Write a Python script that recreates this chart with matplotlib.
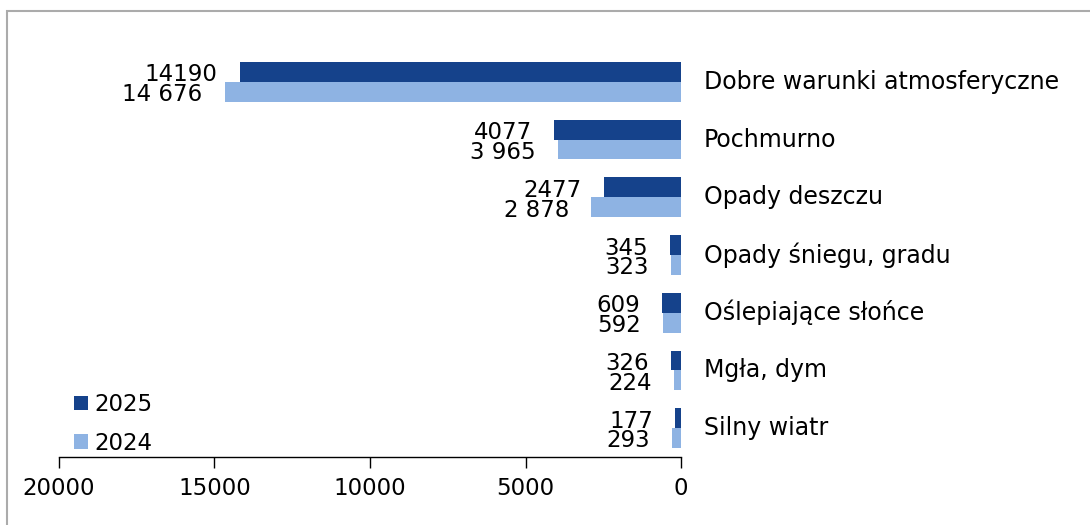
import matplotlib
matplotlib.use("Agg")
import matplotlib.pyplot as plt
from matplotlib.patches import Patch, Rectangle
import numpy as np

categories = ["Dobre warunki atmosferyczne", "Pochmurno", "Opady deszczu",
              "Opady śniegu, gradu", "Oślepiające słońce", "Mgła, dym", "Silny wiatr"]
values_2025 = [14190, 4077, 2477, 345, 609, 326, 177]
values_2024 = [14676, 3965, 2878, 323, 592, 224, 293]
series_labels = ["2025", "2024"]
xticks = [20000, 15000, 10000, 5000, 0]

c_dark = "#15428B"
c_light = "#8EB3E3"
FS = 16.5
FS_CAT = 17

plt.rcParams['font.family'] = ['DejaVu Sans']

fig = plt.figure(figsize=(10.9, 5.25), dpi=100)
ax = fig.add_axes([59/1090, 1-457/525, (681-59)/1090, (457-53)/525])

n = len(categories)
ypos = np.arange(n)[::-1]
h = 0.345
ax.barh(ypos + h/2, values_2025, height=h, color=c_dark)
ax.barh(ypos - h/2, values_2024, height=h, color=c_light)

ax.set_xlim(20000, 0)
ax.set_ylim(-0.5, n - 0.5)
ax.set_xticks(xticks)
ax.set_xticklabels([str(t) for t in xticks], fontsize=FS)
ax.set_yticks([])
for s in ["top", "left", "right"]:
    ax.spines[s].set_visible(False)
ax.spines["bottom"].set_linewidth(1.0)
ax.tick_params(axis="x", direction="out", length=8, width=1.0, pad=6.5)

for y, v25, v24, cat in zip(ypos, values_2025, values_2024, categories):
    ax.annotate(str(v25), xy=(v25, y + h/2), xytext=(-22*0.72, -2.2), textcoords="offset points",
                ha="right", va="center", fontsize=FS)
    ax.annotate(f"{v24:,}".replace(",", " "), xy=(v24, y - h/2), xytext=(-22*0.72, -2.0),
                textcoords="offset points", ha="right", va="center", fontsize=FS)
    ax.annotate(cat, xy=(0, y), xytext=(23*0.72, 0), textcoords="offset points",
                ha="left", va="center", fontsize=FS_CAT)

handles = [Patch(facecolor=c_dark, edgecolor="none"), Patch(facecolor=c_light, edgecolor="none")]
fig.legend(handles, series_labels, loc="upper left", bbox_to_anchor=(74/1090, 1-393/525),
           frameon=False, fontsize=FS, handlelength=0.62, handleheight=0.62,
           handletextpad=0.28, labelspacing=0.68, borderpad=0, borderaxespad=0)

fig.patches.append(Rectangle((7/1090, -0.1), 1.2, 1-11/525+0.1, transform=fig.transFigure,
                             fill=False, edgecolor="#ABABAB", linewidth=1.5))

fig.savefig("out.png", dpi=100)
